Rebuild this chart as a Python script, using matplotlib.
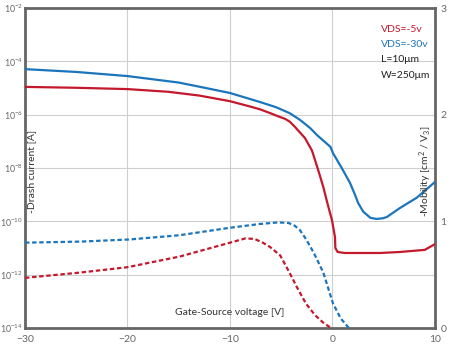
import matplotlib

matplotlib.use("Agg")
import matplotlib.pyplot as plt
from matplotlib.ticker import FixedLocator

plt.rcParams["font.family"] = ["Lato", "DejaVu Sans"]
plt.rcParams["mathtext.fontset"] = "custom"
plt.rcParams["mathtext.rm"] = "Lato"
plt.rcParams["mathtext.it"] = "Lato:italic"

RED = "#c4182c"
BLUE = "#1b75bc"

# drain current, VDS=-30 V (solid blue)
v_id30 = [-30, -25, -20, -15, -12.9, -10, -7.1, -5.5, -4.2, -3.2, -2.2, -1.5, -0.2, 0.05,
          0.9, 1.7, 2.2, 2.5, 3.0, 3.7, 4.3, 4.9, 5.3, 6.6, 8.2, 10]
id30 = [5.1e-5, 4.0e-5, 2.8e-5, 1.6e-5, 1.1e-5, 6.5e-6, 3.0e-6, 1.9e-6, 1.15e-6, 6.5e-7,
        3.2e-7, 1.7e-7, 6.2e-8, 3.6e-8, 1.0e-8, 2.8e-9, 9.8e-10, 4.9e-10, 2.3e-10,
        1.35e-10, 1.23e-10, 1.3e-10, 1.45e-10, 3.2e-10, 7.6e-10, 3.0e-9]

# drain current, VDS=-5 V (solid red)
v_id5 = [-30, -25, -20, -16, -13, -10, -8, -7.1, -6.1, -5.1, -4.6, -4.15, -3.7,
         -3.2, -2.7, -2.0, -1.4, -0.9, -0.45, -0.05, 0.24, 0.28, 0.5, 1.2, 4.6, 6.6, 9.0, 10]
id5 = [1.1e-5, 1.02e-5, 9.1e-6, 7.2e-6, 5.2e-6, 3.2e-6, 2.0e-6, 1.6e-6, 1.15e-6,
       8.1e-7, 6.9e-7, 5.4e-7, 3.6e-7, 2.2e-7, 1.35e-7, 4.5e-8, 8.5e-9, 1.95e-9, 4.1e-10,
       1.1e-10, 2.6e-11, 1.0e-11, 7.1e-12, 6.5e-12, 6.5e-12, 7.1e-12, 8.5e-12, 1.4e-11]

# mobility, VDS=-30 V (dashed blue)
v_mu30 = [-30, -24.6, -19.8, -14.9, -10, -7.1, -5.3, -4.3, -3.7, -3.2, -2.7, -2.2, -1.7,
          -0.9, 0.05, 0.8, 1.6]
mu30 = [0.80, 0.81, 0.83, 0.87, 0.94, 0.975, 0.99, 0.985, 0.96, 0.92, 0.85, 0.77, 0.68,
        0.52, 0.23, 0.09, 0.0]

# mobility, VDS=-5 V (dashed red)
v_mu5 = [-30, -24.6, -20, -14.9, -10, -8.5, -7.6, -6.8, -6.1, -5.1, -4.2, -3.4, -2.6,
         -1.7, -0.9, -0.15]
mu5 = [0.47, 0.52, 0.57, 0.67, 0.80, 0.84, 0.835, 0.80, 0.76, 0.68, 0.52, 0.37, 0.23,
       0.12, 0.05, 0.0]

x_ticks = [-30, -20, -10, 0, 10]
y_ticks = [1e-14, 1e-12, 1e-10, 1e-8, 1e-6, 1e-4, 1e-2]
y_labels = ["10$^{-14}$", "10$^{-12}$", "10$^{-10}$", "10$^{-8}$", "10$^{-6}$", "10$^{-4}$", "10$^{-2}$"]
mu_ticks = [0, 1, 2, 3]

legend_lines = [("VDS=-5v", RED), ("VDS=-30v", BLUE), ("L=10\u03bcm", "#222222"), ("W=250\u03bcm", "#222222")]

fig = plt.figure(figsize=(4.52, 3.54), dpi=100)
ax = fig.add_axes([25 / 452, 26 / 354, 410 / 452, 320 / 354])
ax.set_yscale("log")
ax.set_xlim(-30, 10)
ax.set_ylim(1e-14, 1e-2)
ax.xaxis.set_major_locator(FixedLocator(x_ticks))
ax.yaxis.set_major_locator(FixedLocator(y_ticks))
ax.yaxis.set_minor_locator(FixedLocator([]))
ax.set_yticklabels(y_labels)
ax.grid(True, color="#cfcfcf", lw=0.8)
ax.tick_params(length=0, labelsize=7.5, labelcolor="#666666", pad=5)
ax.tick_params(axis="y", labelsize=6.3, pad=1.5)
for s in ax.spines.values():
    s.set_color("#666666")
    s.set_linewidth(2.0)

ax.plot(v_id5, id5, color=RED, lw=1.6, zorder=3)
ax.plot(v_id30, id30, color=BLUE, lw=1.6, zorder=3)

ax2 = ax.twinx()
ax2.set_ylim(0, 3)
ax2.yaxis.set_major_locator(FixedLocator(mu_ticks))
ax2.tick_params(length=0, labelsize=7.5, labelcolor="#666666", pad=4)
for s in ax2.spines.values():
    s.set_visible(False)
ax2.plot(v_mu5, mu5, color=RED, lw=1.6, dashes=(2, 1.2))
ax2.plot(v_mu30, mu30, color=BLUE, lw=1.6, dashes=(2, 1.2))

ax.text(0.5, 0.047, "Gate-Source voltage [V]", transform=ax.transAxes, ha="center",
        va="center", fontsize=7.5, color="#333333", zorder=5)
ax.text(0.016, 0.49, "-Drash current [A]", transform=ax.transAxes, rotation=90,
        ha="center", va="center", fontsize=7.5, color="#333333")
ax.text(0.978, 0.49, "-Mobility [cm$^2$ / V$_3$]", transform=ax.transAxes, rotation=90,
        ha="center", va="center", fontsize=7.5, color="#333333")

for i, (txt, col) in enumerate(legend_lines):
    fig.text(381 / 452, 1 - (29 + 15.5 * i) / 354, txt, ha="left", va="center",
             fontsize=7.5, color=col)

fig.savefig("out.png", dpi=100)
